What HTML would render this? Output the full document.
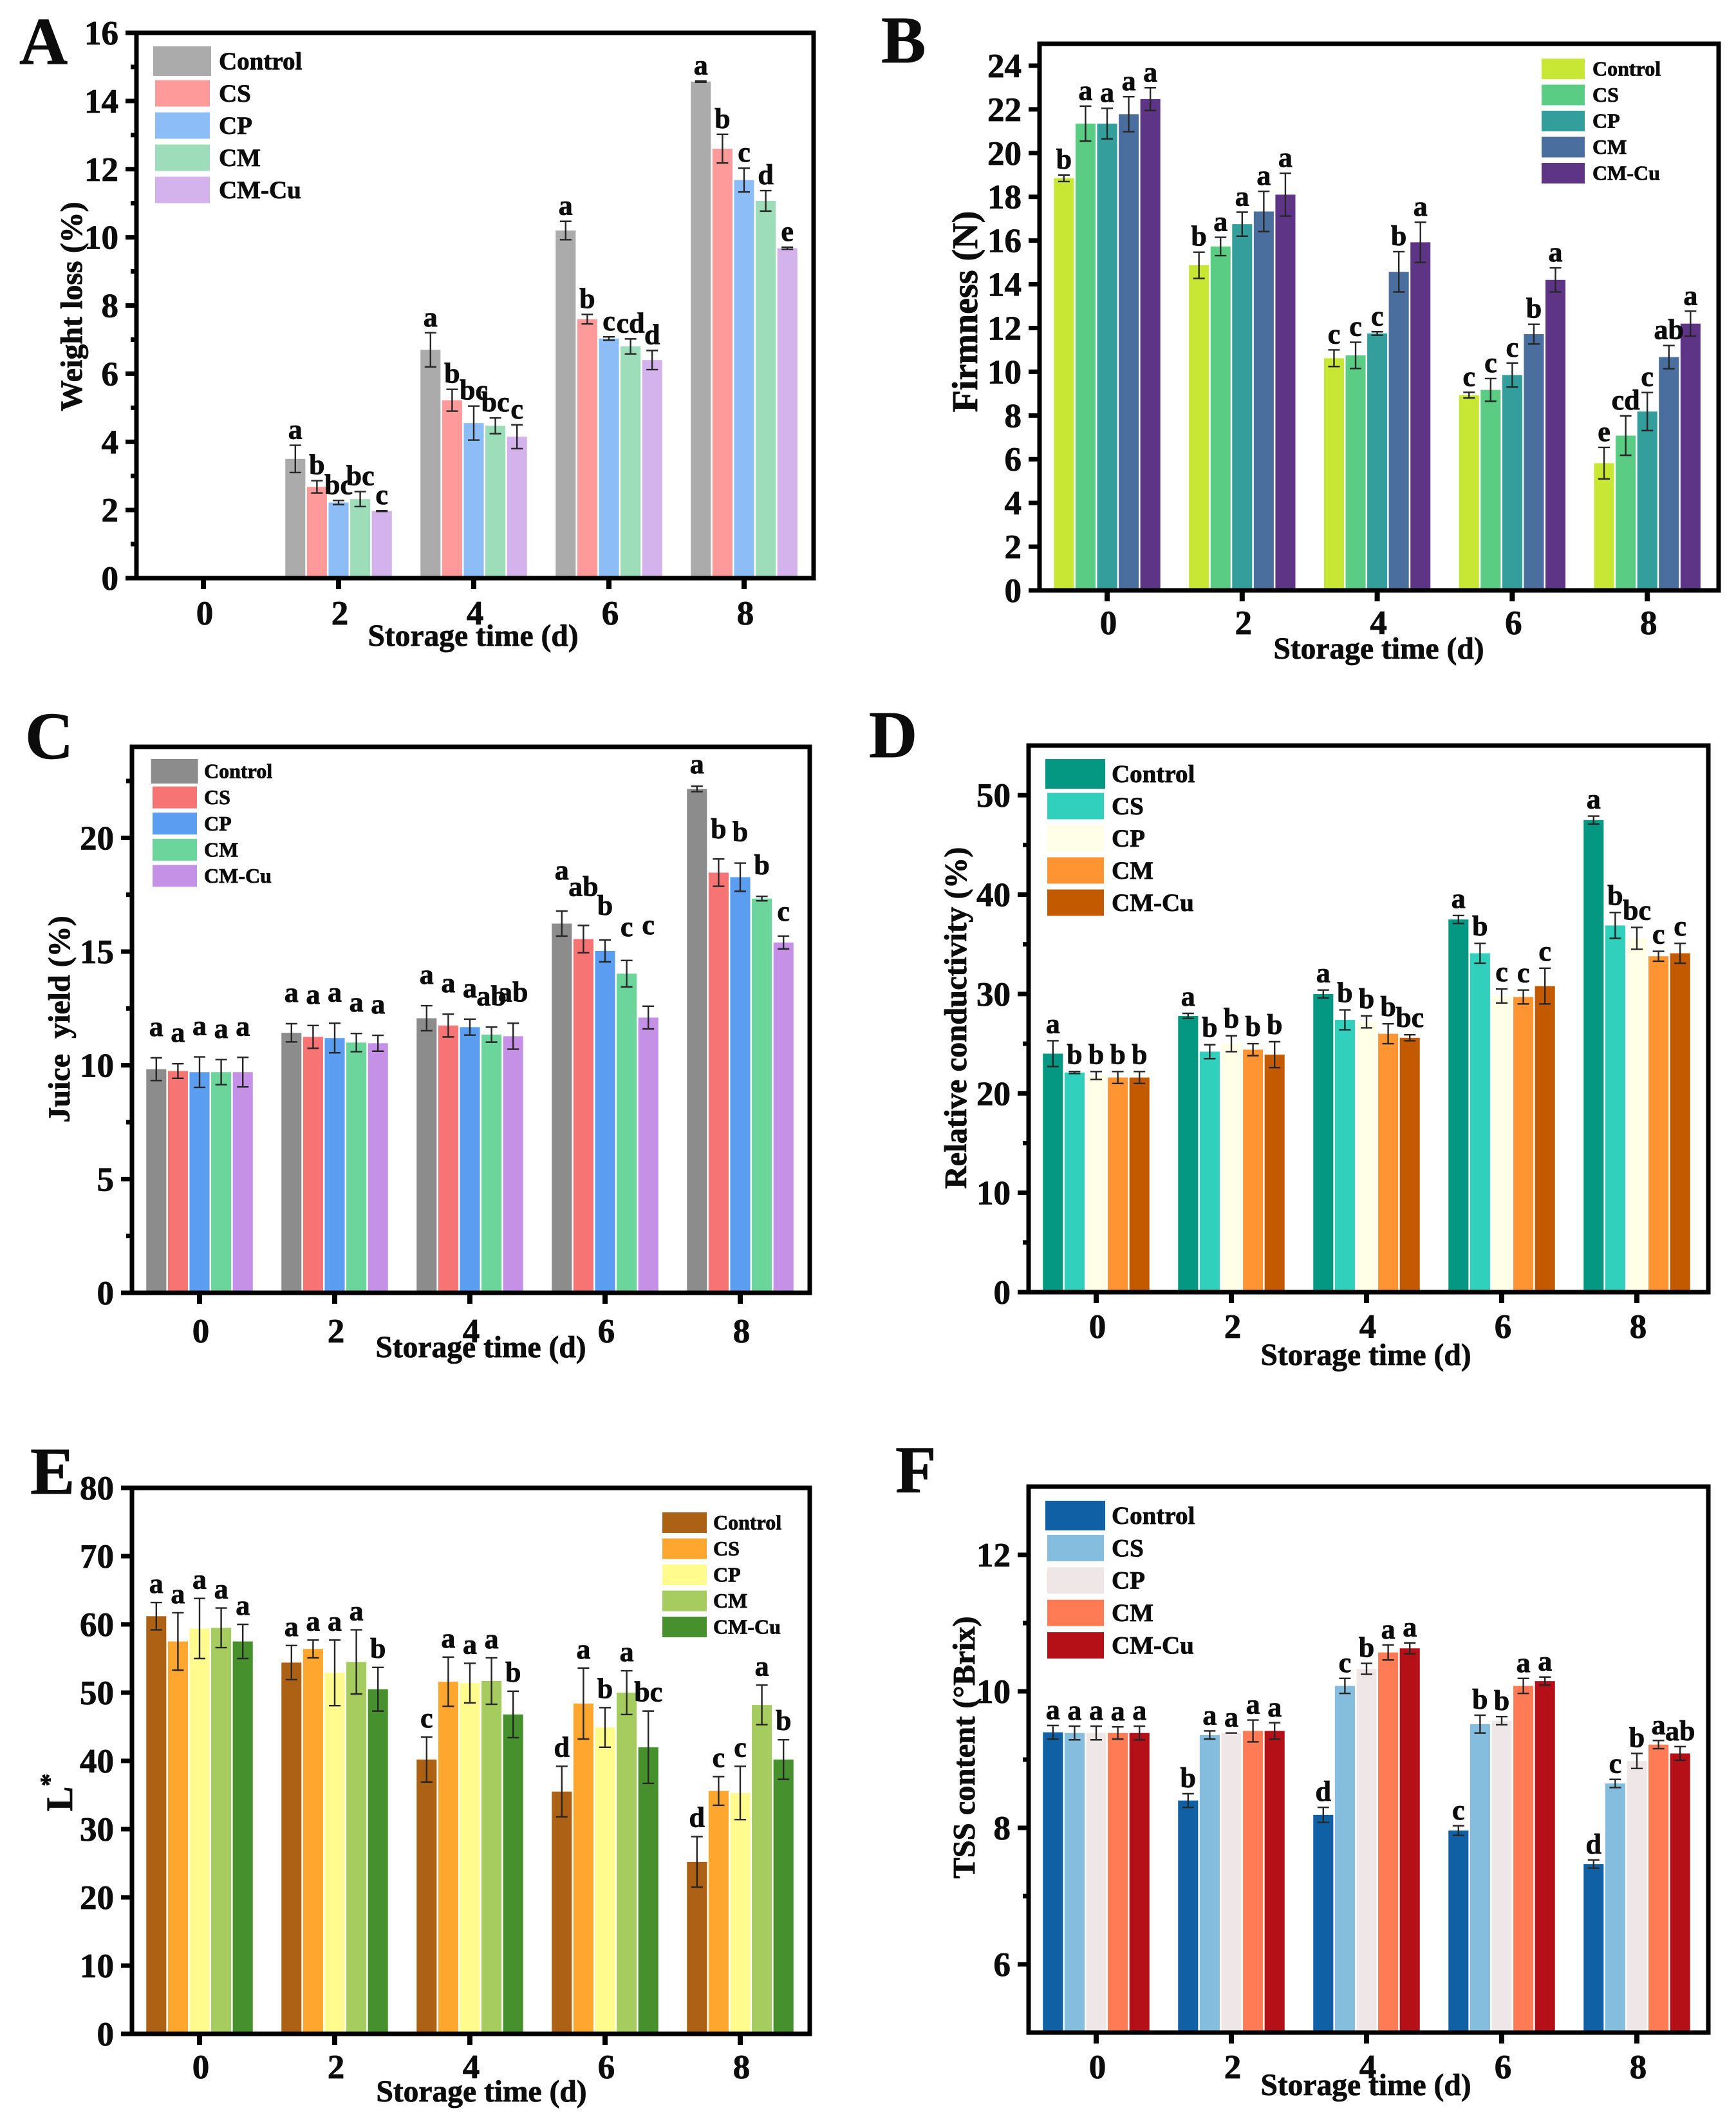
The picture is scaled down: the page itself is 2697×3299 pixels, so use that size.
<!DOCTYPE html>
<html lang="en">
<head>
<meta charset="utf-8">
<title>Storage quality bar charts</title>
<style>
html,body{margin:0;padding:0;background:#fff;}
svg{display:block;}
text{font-family:"Liberation Serif",serif;font-weight:bold;fill:#0c0c0c;stroke:#0c0c0c;stroke-width:.8px;}
</style>
</head>
<body>
<svg id="figure" xmlns="http://www.w3.org/2000/svg" width="2697" height="3299" viewBox="0 0 2697 3299"></svg>
<script>
const days = [0, 2, 4, 6, 8];
const seriesNames = ['Control', 'CS', 'CP', 'CM', 'CM-Cu'];

const aYTicks = [0, 2, 4, 6, 8, 10, 12, 14, 16];
const aValues = [
  [0, 3.5, 6.7, 10.2, 14.57],
  [0, 2.68, 5.22, 7.6, 12.6],
  [0, 2.22, 4.55, 7.03, 11.68],
  [0, 2.32, 4.47, 6.8, 11.07],
  [0, 1.97, 4.15, 6.4, 9.68]
];
const aErrors = [
  [0, 0.4, 0.5, 0.27, 0.02],
  [0, 0.18, 0.32, 0.14, 0.42],
  [0, 0.06, 0.5, 0.05, 0.35],
  [0, 0.22, 0.23, 0.22, 0.3],
  [0, 0.01, 0.35, 0.28, 0.03]
];
const aLetters = [
  ['', 'a', 'a', 'a', 'a'],
  ['', 'b', 'b', 'b', 'b'],
  ['', 'bc', 'bc', 'c', 'c'],
  ['', 'bc', 'bc', 'cd', 'd'],
  ['', 'c', 'c', 'd', 'e']
];

const bYTicks = [0, 2, 4, 6, 8, 10, 12, 14, 16, 18, 20, 22, 24];
const bValues = [
  [18.85, 14.87, 10.62, 8.93, 5.82],
  [21.35, 15.73, 10.75, 9.17, 7.08],
  [21.35, 16.75, 11.75, 9.85, 8.18],
  [21.78, 17.33, 14.57, 11.72, 10.67],
  [22.47, 18.1, 15.92, 14.2, 12.2]
];
const bErrors = [
  [0.15, 0.6, 0.38, 0.13, 0.72],
  [0.8, 0.42, 0.6, 0.52, 0.9],
  [0.7, 0.55, 0.08, 0.55, 0.87],
  [0.8, 0.92, 0.92, 0.45, 0.53],
  [0.52, 0.98, 0.92, 0.55, 0.57]
];
const bLetters = [
  ['b', 'b', 'c', 'c', 'e'],
  ['a', 'a', 'c', 'c', 'cd'],
  ['a', 'a', 'c', 'c', 'c'],
  ['a', 'a', 'b', 'b', 'ab'],
  ['a', 'a', 'a', 'a', 'a']
];

const cYTicks = [0, 5, 10, 15, 20];
const cValues = [
  [9.83, 11.43, 12.07, 16.23, 22.15],
  [9.75, 11.25, 11.75, 15.55, 18.47],
  [9.7, 11.2, 11.68, 15.03, 18.27],
  [9.7, 11, 11.35, 14.03, 17.33],
  [9.7, 10.97, 11.28, 12.1, 15.4]
];
const cErrors = [
  [0.5, 0.4, 0.55, 0.55, 0.12],
  [0.32, 0.5, 0.5, 0.6, 0.6],
  [0.67, 0.65, 0.35, 0.48, 0.62],
  [0.55, 0.4, 0.33, 0.58, 0.1],
  [0.65, 0.35, 0.57, 0.5, 0.28]
];
const cLetters = [
  ['a', 'a', 'a', 'a', 'a'],
  ['a', 'a', 'a', 'ab', 'b'],
  ['a', 'a', 'a', 'b', 'b'],
  ['a', 'a', 'ab', 'c', 'b'],
  ['a', 'a', 'ab', 'c', 'c']
];

const dYTicks = [0, 10, 20, 30, 40, 50];
const dValues = [
  [24, 27.8, 30, 37.5, 47.5],
  [22.1, 24.2, 27.4, 34.1, 36.9],
  [21.8, 25, 27.2, 29.8, 35.6],
  [21.6, 24.4, 26, 29.7, 33.8],
  [21.6, 23.9, 25.6, 30.8, 34.1]
];
const dErrors = [
  [1.3, 0.25, 0.4, 0.4, 0.4],
  [0.1, 0.7, 1, 1, 1.3],
  [0.4, 0.8, 0.6, 0.7, 1.1],
  [0.6, 0.6, 1, 0.7, 0.5],
  [0.6, 1.3, 0.3, 1.8, 1]
];
const dLetters = [
  ['a', 'a', 'a', 'a', 'a'],
  ['b', 'b', 'b', 'b', 'b'],
  ['b', 'b', 'b', 'c', 'bc'],
  ['b', 'b', 'b', 'c', 'c'],
  ['b', 'b', 'bc', 'c', 'c']
];

const eYTicks = [0, 10, 20, 30, 40, 50, 60, 70, 80];
const eValues = [
  [61.2, 54.4, 40.2, 35.5, 25.2],
  [57.5, 56.4, 51.6, 48.4, 35.6],
  [59.4, 52.9, 51.4, 44.9, 35.3],
  [59.5, 54.5, 51.7, 50, 48.2],
  [57.5, 50.5, 46.8, 42, 40.2]
];
const eErrors = [
  [2, 2.5, 3.3, 3.7, 3.7],
  [4.2, 1.3, 3.6, 5.2, 2.1],
  [4.4, 4.8, 2.9, 2.9, 3.9],
  [2.9, 4.7, 3.4, 3.2, 2.9],
  [2.5, 3.2, 3.4, 5.3, 2.9]
];
const eLetters = [
  ['a', 'a', 'c', 'd', 'd'],
  ['a', 'a', 'a', 'a', 'c'],
  ['a', 'a', 'a', 'b', 'c'],
  ['a', 'a', 'a', 'a', 'a'],
  ['a', 'b', 'b', 'bc', 'b']
];

const fYTicks = [6, 8, 10, 12];
const fValues = [
  [9.4, 8.4, 8.19, 7.96, 7.47],
  [9.39, 9.36, 10.08, 9.52, 8.65],
  [9.39, 9.39, 10.33, 9.57, 8.98],
  [9.39, 9.42, 10.57, 10.08, 9.22],
  [9.39, 9.42, 10.63, 10.15, 9.09]
];
const fErrors = [
  [0.1, 0.1, 0.11, 0.07, 0.06],
  [0.1, 0.06, 0.11, 0.13, 0.06],
  [0.1, 0, 0.08, 0.06, 0.11],
  [0.09, 0.16, 0.11, 0.11, 0.06],
  [0.1, 0.12, 0.08, 0.06, 0.1]
];
const fLetters = [
  ['a', 'b', 'd', 'c', 'd'],
  ['a', 'a', 'c', 'b', 'c'],
  ['a', 'a', 'b', 'b', 'b'],
  ['a', 'a', 'a', 'a', 'a'],
  ['a', 'a', 'a', 'a', 'ab']
];

const panels = [
  {id: 'a', tag: 'A', values: aValues, errors: aErrors, letters: aLetters, ticks: aYTicks,
   yTitle: 'Weight loss (%)', yFont: 48, colors: ['#ababab', '#ff9a9a', '#8dbdf7', '#9eddba', '#d4b3ec'],
   frame: [212, 51, 1264, 898], yMin: 0, yMax: 16, x0: 316, xStep: 105, minor: true, gap: 10,
   tagPos: [30, 99], xLabelY: 970, xTitle: [735, 1003], yTitlePos: [127, 476],
   legend: {x: 241, w: 85, h: 41, ys: 95, step: 50, tx: 340, fs: 39, grow: 5}},
  {id: 'b', tag: 'B', values: bValues, errors: bErrors, letters: bLetters, ticks: bYTicks,
   yTitle: 'Firmness (N)', yFont: 56, colors: ['#c8e734', '#5acc84', '#339e9b', '#4a6f9e', '#5e3486'],
   frame: [1615, 68, 2670, 917], yMin: 0, yMax: 25, x0: 1720, xStep: 104.9, minor: false, gap: 10,
   tagPos: [1369, 97], xLabelY: 985, xTitle: [2142, 1023], yTitlePos: [1518, 484],
   legend: {x: 2395, w: 67, h: 32, ys: 107, step: 40.5, tx: 2474, fs: 32, grow: 0}},
  {id: 'c', tag: 'C', values: cValues, errors: cErrors, letters: cLetters, ticks: cYTicks,
   yTitle: 'Juice  yield (%)', yFont: 48, colors: ['#8c8c8c', '#f77474', '#5b9df0', '#6bd59b', '#c491e6'],
   frame: [205, 1160, 1258, 2008], yMin: 0, yMax: 24, x0: 310, xStep: 105, minor: true, gap: 34,
   tagPos: [39, 1178], xLabelY: 2085, xTitle: [747, 2108], yTitlePos: [108, 1583],
   legend: {x: 237, w: 69, h: 34, ys: 1198, step: 40.6, tx: 317, fs: 32, grow: 4},
   nudge: {'0,3': -15, '1,3': -12, '2,3': -5, '3,3': -4, '4,3': -78, '0,4': 14, '1,4': 2, '4,4': 10}},
  {id: 'd', tag: 'D', values: dValues, errors: dErrors, letters: dLetters, ticks: dYTicks,
   yTitle: 'Relative conductivity (%)', yFont: 48.5, colors: ['#049882', '#30d0bc', '#ffffe8', '#ff9433', '#c45a00'],
   frame: [1598, 1158, 2654, 2007], yMin: 0, yMax: 55, x0: 1703, xStep: 105, minor: true, gap: 12,
   tagPos: [1350, 1176], xLabelY: 2078, xTitle: [2122, 2120], yTitlePos: [1501, 1581],
   legend: {x: 1627, w: 88, h: 41, ys: 1202, step: 50, tx: 1727, fs: 39, grow: 5}},
  {id: 'e', tag: 'E', values: eValues, errors: eErrors, letters: eLetters, ticks: eYTicks,
   yTitle: 'L', yTitleSup: '*', yFont: 58, colors: ['#ac6114', '#ffa62f', '#fffb8c', '#a6cc60', '#46912e'],
   frame: [205, 2311, 1258, 3159], yMin: 0, yMax: 80, x0: 310, xStep: 105, minor: false, gap: 15,
   tagPos: [47, 2320], xLabelY: 3228, xTitle: [748, 3264], yTitlePos: [112, 2784],
   legend: {x: 1029, w: 69, h: 32, ys: 2365, step: 40.5, tx: 1108, fs: 32, grow: 0}},
  {id: 'f', tag: 'F', values: fValues, errors: fErrors, letters: fLetters, ticks: fYTicks,
   yTitle: 'TSS content (°Brix)', yFont: 48.5, colors: ['#0f60a5', '#85bddf', '#efe7e7', '#ff7b56', '#b50f17'],
   frame: [1598, 2309, 2654, 3157], yMin: 5, yMax: 13, x0: 1703, xStep: 105, minor: true, gap: 10,
   tagPos: [1391, 2318], xLabelY: 3228, xTitle: [2122, 3254], yTitlePos: [1514, 2714],
   legend: {x: 1627, w: 88, h: 41, ys: 2354, step: 50.4, tx: 1727, fs: 39, grow: 5}}
];

const svgNS = 'http://www.w3.org/2000/svg';
const figure = document.getElementById('figure');

function make(parent, tag, attrs, content) {
  const node = document.createElementNS(svgNS, tag);
  for (const key in attrs) node.setAttribute(key, attrs[key]);
  if (content !== undefined) node.textContent = content;
  parent.appendChild(node);
  return node;
}

function drawPanel(p) {
  const [L, T, R, B] = p.frame;
  const yScale = v => B - (v - p.yMin) / (p.yMax - p.yMin) * (B - T);
  const xScale = d => p.x0 + d * p.xStep;
  const pitch = p.xStep * 2 * 0.8 / 5;
  const barW = pitch - 2.5;

  const group = make(figure, 'g', {});
  
  

  const tag = make(group, 'text', {x: p.tagPos[0], y: p.tagPos[1], 'font-size': 104}, p.tag);
  
  

  p.values.forEach((row, s) => {
    row.forEach((value, d) => {
      const cx = xScale(days[d]) + (s - 2) * pitch;
      const top = yScale(value);
      if (value > p.yMin) {
        const bar = make(group, 'rect', {x: cx - barW / 2, y: top, width: barW, height: B - top, fill: p.colors[s]});
        
        
      }
    });
  });

  p.values.forEach((row, s) => {
    row.forEach((value, d) => {
      if (value <= p.yMin) return;
      const cx = xScale(days[d]) + (s - 2) * pitch;
      const err = p.errors[s][d];
      const hi = yScale(value + err);
      const lo = yScale(value - err);
      const whisker = make(group, 'path', {
        d: 'M' + (cx - 9) + ' ' + hi + 'H' + (cx + 9) + 'M' + cx + ' ' + hi + 'V' + lo + 'M' + (cx - 9) + ' ' + lo + 'H' + (cx + 9),
        fill: 'none', stroke: '#262626', 'stroke-width': 2.4
      });
      
      
      const letter = p.letters[s][d];
      if (letter) {
        const key = s + ',' + d;
        const extra = p.nudge && p.nudge[key] ? p.nudge[key] : 0;
        const label = make(group, 'text', {x: cx, y: hi - p.gap + extra, 'font-size': 44, 'text-anchor': 'middle'}, letter);
        
        
      }
    });
  });

  const frame = make(group, 'rect', {x: L, y: T, width: R - L, height: B - T, fill: 'none', stroke: '#000', 'stroke-width': 7});
  
  

  p.ticks.forEach((tickValue, i) => {
    const y = yScale(tickValue);
    const tick = make(group, 'line', {x1: L - 17, x2: L, y1: y, y2: y, stroke: '#000', 'stroke-width': 7});
    
    
    const label = make(group, 'text', {x: L - 28, y: y + 18, 'font-size': 53, 'text-anchor': 'end'}, tickValue);
    
    
    if (p.minor && i < p.ticks.length - 1) {
      const midY = yScale((tickValue + p.ticks[i + 1]) / 2);
      const minorTick = make(group, 'line', {x1: L - 9, x2: L, y1: midY, y2: midY, stroke: '#000', 'stroke-width': 7});
      
      
    }
  });
  if (p.minor) {
    const step = p.ticks[1] - p.ticks[0];
    const extraY = yScale(p.ticks[p.ticks.length - 1] + step / 2);
    if (extraY > T) {
      const minorTick = make(group, 'line', {x1: L - 9, x2: L, y1: extraY, y2: extraY, stroke: '#000', 'stroke-width': 7});
      
      
    }
  }

  days.forEach(day => {
    const x = xScale(day);
    const tick = make(group, 'line', {x1: x, x2: x, y1: B, y2: B + 17, stroke: '#000', 'stroke-width': 8});
    
    
    const label = make(group, 'text', {x: x + 2, y: p.xLabelY, 'font-size': 53, 'text-anchor': 'middle'}, day);
    
    
  });

  const xTitle = make(group, 'text', {x: p.xTitle[0], y: p.xTitle[1], 'font-size': 47.5, 'text-anchor': 'middle'}, 'Storage time (d)');
  
  

  const yTitle = make(group, 'text', {
    transform: 'translate(' + p.yTitlePos[0] + ' ' + p.yTitlePos[1] + ') rotate(-90)',
    'font-size': p.yFont, 'text-anchor': 'middle', style: 'white-space:pre'
  }, p.yTitle);
  if (p.yTitleSup) {
    make(yTitle, 'tspan', {'baseline-shift': 'super', 'font-size': 40}, p.yTitleSup);
  }
  
  

  seriesNames.forEach((name, s) => {
    const lg = p.legend;
    const cy = lg.ys + s * lg.step;
    const extra = s === 0 ? lg.grow : 0;
    const swatch = make(group, 'rect', {x: lg.x - extra * 0.6, y: cy - (lg.h + extra) / 2, width: lg.w + extra, height: lg.h + extra, fill: p.colors[s]});
    
    
    const text = make(group, 'text', {x: lg.tx, y: cy + lg.fs * 0.33, 'font-size': lg.fs}, name);
    
    
  });
}

panels.forEach(drawPanel);
</script>
</body>
</html>
